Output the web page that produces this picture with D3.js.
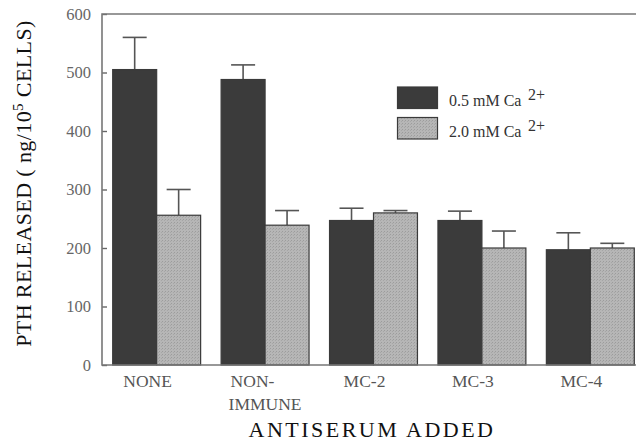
<!DOCTYPE html>
<html><head><meta charset="utf-8">
<script src="https://cdn.jsdelivr.net/npm/d3@7"></script>
<style>body{margin:0;background:#fff}svg{display:block}</style>
</head><body>
<svg id="c" width="636" height="441"></svg>
<script>
const categories = ["NONE", "NON-|IMMUNE", "MC-2", "MC-3", "MC-4"];
const seriesNames = ["0.5 mM Ca", "2.0 mM Ca"];
const low = [505, 488, 247, 247, 197];
const lowErr = [55, 25, 21, 16, 29];
const high = [256, 239, 260, 200, 200];
const highErr = [44, 25, 4, 29, 8];
const yTicks = [0, 100, 200, 300, 400, 500, 600];

const FONT = "Liberation Serif";
const svg = d3.select("#c");
const L = 102, T = 14, B = 365, R = 636;

function txt(parent, size) {
  return parent.append("text").style("font-family", FONT).style("font-size", size + "px");
}
function fitSpacing(sel, target) {
  const n = sel.text().length;
  const w = sel.node().getComputedTextLength();
  sel.style("letter-spacing", ((target - w) / n) + "px");
}

const defs = svg.append("defs");
const pat = defs.append("pattern").attr("id", "stip").attr("patternUnits", "userSpaceOnUse")
  .attr("width", 3).attr("height", 3);
pat.append("rect").attr("width", 3).attr("height", 3).attr("fill", "#b6b6b6");
pat.append("rect").attr("x", 0).attr("y", 0).attr("width", 1).attr("height", 1).attr("fill", "#9c9c9c");
pat.append("rect").attr("x", 2).attr("y", 1).attr("width", 1).attr("height", 1).attr("fill", "#a6a6a6");

const y = d3.scaleLinear().domain([0, 600]).range([B, T]);
const x = d3.scaleBand().domain(categories).range([112.7, 634.3]).paddingInner(0.189).paddingOuter(0);
const xs = d3.scaleBand().domain([0, 1]).range([0, x.bandwidth()]);

const rows = categories.map((c, i) => [
  {c, s: 0, v: low[i], e: lowErr[i]},
  {c, s: 1, v: high[i], e: highErr[i]}
]).flat();

// error bars
const eb = svg.append("g").attr("stroke", "#555").attr("stroke-width", 1.6);
rows.forEach(d => {
  const cx = x(d.c) + xs(d.s) + xs.bandwidth() / 2;
  eb.append("line").attr("x1", cx).attr("x2", cx).attr("y1", y(d.v)).attr("y2", y(d.v + d.e));
  eb.append("line").attr("x1", cx - 12).attr("x2", cx + 12).attr("y1", y(d.v + d.e)).attr("y2", y(d.v + d.e));
});

// bars
svg.append("g").selectAll("rect").data(rows).join("rect")
  .attr("x", d => x(d.c) + xs(d.s))
  .attr("width", xs.bandwidth())
  .attr("y", d => y(d.v))
  .attr("height", d => y(0) - y(d.v))
  .attr("fill", d => d.s === 0 ? "#3b3b3b" : "url(#stip)")
  .attr("stroke", "#3a3a3a").attr("stroke-width", 1.2);

// y axis
const ya = svg.append("g").attr("transform", `translate(${L},0)`)
  .call(d3.axisLeft(y).tickValues(yTicks).tickSize(-5).tickPadding(11));
ya.select(".domain").remove();
ya.selectAll(".tick line").attr("stroke", "#666").attr("stroke-width", 1.4);
ya.selectAll(".tick text").style("font-family", FONT).style("font-size", "16.5px").attr("fill", "#666");

// frame
const fr = svg.append("g").attr("stroke", "#777").attr("stroke-width", 1.6).attr("fill", "none");
fr.append("path").attr("d", `M${R},${T}H${L}V${B}H${R}`);

// category labels
categories.forEach(c => {
  const parts = c.split("|");
  const cx = x(c) + x.bandwidth() / 2;
  if (parts.length === 1) {
    txt(svg, 17.5).attr("fill", "#555").attr("text-anchor", "middle")
      .attr("x", cx - 9).attr("y", 386.5).text(parts[0]);
  } else {
    const t2 = txt(svg, 17.5).attr("fill", "#555").attr("text-anchor", "middle")
      .attr("x", cx).attr("y", 410).text(parts[1]);
    const w2 = t2.node().getComputedTextLength();
    txt(svg, 17.5).attr("fill", "#555").attr("text-anchor", "start")
      .attr("x", cx - w2 / 2 + 2).attr("y", 386.5).text(parts[0]);
  }
});

// x title
const xt = txt(svg, 22).attr("x", 372).attr("y", 437).attr("text-anchor", "middle")
  .attr("fill", "#111").text("ANTISERUM ADDED");
fitSpacing(xt, 247);

// y title
const yt = txt(svg, 22).attr("transform", "rotate(-90)").attr("x", -183.5).attr("y", 31)
  .attr("text-anchor", "middle").attr("fill", "#111");
yt.append("tspan").text("PTH  RELEASED ( ng/10");
yt.append("tspan").attr("dy", -8).style("font-size", "15px").text("5");
yt.append("tspan").attr("dy", 8).text(" CELLS)");
fitSpacing(yt, 327);

// legend
const lg = svg.append("g");
seriesNames.forEach((n, i) => {
  const yy = 87 + i * 30.5;
  lg.append("rect").attr("x", 397.5).attr("y", yy).attr("width", 40).attr("height", 21.5)
    .attr("fill", i === 0 ? "#3b3b3b" : "url(#stip)").attr("stroke", "#3a3a3a").attr("stroke-width", 1.2);
  txt(lg, 16).attr("x", 449).attr("y", yy + 19).attr("fill", "#333").text(n);
  txt(lg, 16).attr("x", 528).attr("y", yy + 13).attr("fill", "#333").text("2+");
});
</script>
</body></html>
